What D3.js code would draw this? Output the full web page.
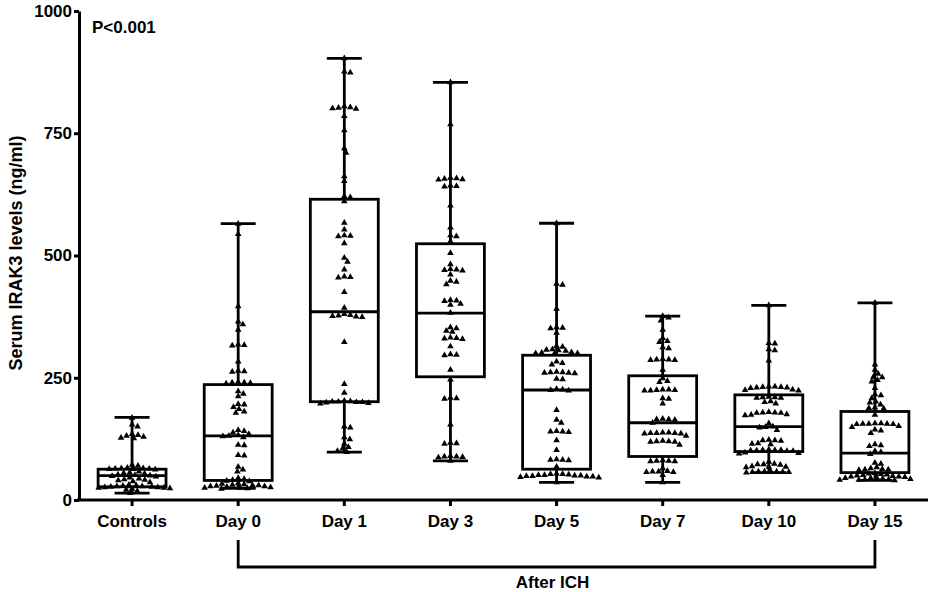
<!DOCTYPE html>
<html lang="en">
<head>
<meta charset="UTF-8">
<title>Serum IRAK3 levels</title>
<script src="https://d3js.org/d3.v7.min.js"></script>
<style>
    body { margin: 0; background: #fff; }
    text { font-family: "Liberation Sans", Arial, sans-serif; font-weight: bold; fill: #000; }
</style>
</head>
<body>
<svg id="chart"></svg>
<script>
// groups on the x axis
var groups = ["Controls", "Day 0", "Day 1", "Day 3", "Day 5", "Day 7", "Day 10", "Day 15"];
var yTicks = [0, 250, 500, 750, 1000];

// box plot summary (min, q1, median, q3, max)
var boxMin    = [14,  24,  98,  80,  36,  36,  56,  40];
var boxQ1     = [27,  40, 201, 252,  63,  89,  99,  56];
var boxMedian = [50, 131, 385, 382, 225, 158, 150,  96];
var boxQ3     = [63, 236, 615, 524, 296, 254, 215, 181];
var boxMax    = [169, 565, 903, 854, 566, 376, 398, 403];

// individual samples per group (ng/ml)
var controls = [168, 154, 150, 135, 133, 131, 129, 127, 126, 72, 70, 66, 65, 65, 64, 64, 63, 63, 62, 58, 56, 55, 54, 52, 51, 50, 49, 48, 46, 44, 42, 41, 40, 38, 36, 31, 30, 29, 28, 28, 27, 27, 26, 26, 25, 25, 24, 23, 21, 18, 14];
var day0 = [565, 544, 396, 365, 359, 348, 318, 317, 316, 283, 264, 263, 262, 241, 240, 240, 239, 238, 222, 217, 212, 196, 195, 190, 186, 181, 178, 143, 141, 138, 135, 133, 131, 130, 128, 113, 112, 92, 91, 68, 62, 58, 45, 43, 41, 39, 38, 34, 33, 32, 31, 30, 30, 29, 28, 28, 27, 26, 25, 25, 24, 23];
var day1 = [903, 876, 874, 805, 803, 802, 801, 800, 785, 756, 719, 710, 662, 652, 621, 619, 611, 567, 553, 541, 540, 539, 525, 495, 487, 471, 457, 456, 455, 425, 393, 380, 378, 377, 376, 375, 374, 323, 237, 219, 203, 202, 201, 201, 200, 200, 199, 198, 197, 150, 148, 128, 124, 115, 108, 105, 100, 98];
var day3 = [854, 768, 659, 658, 657, 656, 655, 643, 642, 641, 602, 557, 541, 539, 529, 505, 482, 472, 471, 470, 469, 461, 448, 446, 441, 409, 408, 407, 401, 399, 383, 353, 351, 346, 344, 332, 331, 330, 329, 314, 298, 297, 296, 266, 246, 209, 208, 207, 154, 117, 116, 115, 90, 89, 89, 88, 87, 80];
var day5 = [566, 442, 440, 391, 353, 352, 351, 342, 315, 313, 308, 307, 306, 305, 302, 301, 300, 300, 299, 283, 280, 277, 262, 261, 261, 260, 260, 259, 248, 247, 227, 226, 225, 224, 184, 164, 158, 141, 140, 140, 139, 122, 102, 83, 82, 82, 81, 68, 54, 53, 53, 52, 51, 51, 50, 50, 49, 49, 48, 48, 47, 46, 36];
var day7 = [376, 373, 367, 348, 331, 325, 323, 312, 310, 288, 287, 287, 286, 286, 266, 249, 243, 241, 226, 226, 225, 225, 224, 224, 208, 207, 197, 166, 165, 165, 164, 158, 138, 138, 137, 137, 137, 136, 136, 131, 121, 120, 120, 119, 119, 113, 81, 80, 80, 79, 79, 65, 59, 58, 58, 57, 57, 51, 36];
var day10 = [398, 321, 320, 308, 306, 285, 232, 232, 231, 231, 230, 230, 229, 226, 225, 224, 211, 210, 210, 209, 209, 202, 200, 197, 180, 179, 179, 178, 178, 175, 174, 173, 157, 150, 149, 148, 143, 123, 122, 122, 121, 116, 115, 114, 103, 102, 102, 102, 101, 101, 100, 100, 97, 96, 95, 78, 74, 73, 73, 72, 69, 68, 68, 67, 59, 58, 58, 58, 57, 57, 57, 56];
var day15 = [403, 277, 266, 258, 252, 251, 245, 242, 229, 216, 214, 208, 201, 199, 195, 189, 188, 187, 174, 157, 157, 156, 156, 156, 155, 155, 151, 149, 144, 142, 137, 114, 112, 110, 100, 98, 94, 76, 74, 67, 65, 63, 62, 62, 61, 55, 54, 53, 52, 51, 50, 49, 48, 48, 47, 46, 45, 45, 44, 43, 42, 42, 41, 41, 40];
var samples = [controls, day0, day1, day3, day5, day7, day10, day15];

(function() {
    var width = 935;
    var height = 592;
    var lw = 2.8;

    var svg = d3.select("#chart")
        .attr("width", width)
        .attr("height", height);

    var x = d3.scaleBand().domain(groups).range([79, 928]);
    var y = d3.scaleLinear().domain([0, 1000]).range([500, 11]);

    var boxW = x.bandwidth() * 0.64;
    var capW = x.bandwidth() * 0.33;

    // axes
    var yAxis = svg.append("g")
        .attr("transform", "translate(79,0)")
        .call(d3.axisLeft(y).tickValues(yTicks).tickFormat(d3.format("d"))
            .tickSize(5).tickSizeOuter(0).tickPadding(2));
    var xAxis = svg.append("g")
        .attr("transform", "translate(0,500)")
        .call(d3.axisBottom(x).tickSize(6).tickSizeOuter(0).tickPadding(9));
    [yAxis, xAxis].forEach(function(a) {
        a.selectAll("path, line").attr("stroke", "#000").attr("stroke-width", 3);
        a.selectAll("text").style("font-size", "17px");
    });
    xAxis.select(".domain").attr("d", "M77,0H928");

    // boxes and whiskers
    var g = svg.append("g").attr("stroke", "#000").attr("stroke-width", lw).attr("fill", "none");
    groups.forEach(function(name, i) {
        var cx = x(name) + x.bandwidth() / 2;
        g.append("rect")
            .attr("x", cx - boxW / 2).attr("width", boxW)
            .attr("y", y(boxQ3[i])).attr("height", y(boxQ1[i]) - y(boxQ3[i]));
        g.append("line").attr("x1", cx - boxW / 2).attr("x2", cx + boxW / 2)
            .attr("y1", y(boxMedian[i])).attr("y2", y(boxMedian[i]));
        g.append("line").attr("x1", cx).attr("x2", cx).attr("y1", y(boxMax[i])).attr("y2", y(boxQ3[i]));
        g.append("line").attr("x1", cx).attr("x2", cx).attr("y1", y(boxQ1[i])).attr("y2", y(boxMin[i]));
        g.append("line").attr("x1", cx - capW / 2).attr("x2", cx + capW / 2).attr("y1", y(boxMax[i])).attr("y2", y(boxMax[i]));
        g.append("line").attr("x1", cx - capW / 2).attr("x2", cx + capW / 2).attr("y1", y(boxMin[i])).attr("y2", y(boxMin[i]));
    });

    // simple beeswarm: put each point as close to the centre as it can go
    var rx = 6.1, ry = 4.6;
    function dodge(values) {
        var placed = [];
        values.slice().sort(d3.descending).forEach(function(v) {
            var py = y(v);
            var near = placed.filter(function(p) { return Math.abs(p.y - py) < ry; });
            var cands = [0];
            near.forEach(function(p) {
                var dy = (p.y - py) / ry;
                var w = rx * Math.sqrt(1 - dy * dy);
                cands.push(p.dx - w, p.dx + w);
            });
            cands.sort(function(a, b) { return Math.abs(a) - Math.abs(b) || b - a; });
            var dx = cands.find(function(c) {
                return near.every(function(p) {
                    var ddx = (p.dx - c) / rx, ddy = (p.y - py) / ry;
                    return ddx * ddx + ddy * ddy >= 0.999;
                });
            });
            placed.push({ dx: dx, y: py });
        });
        return placed;
    }

    var tri = d3.symbol().type(d3.symbolTriangle).size(19);
    groups.forEach(function(name, i) {
        var cx = x(name) + x.bandwidth() / 2;
        svg.append("g").selectAll("path")
            .data(dodge(samples[i]))
            .enter()
            .append("path")
            .attr("d", tri)
            .attr("fill", "#000")
            .attr("transform", function(d) { return "translate(" + (cx + d.dx) + "," + d.y + ")"; });
    });

    // labels
    svg.append("text")
        .attr("transform", "translate(22,253)rotate(-90)")
        .attr("text-anchor", "middle")
        .style("font-size", "18px")
        .text("Serum IRAK3 levels (ng/ml)");

    svg.append("text")
        .attr("x", 92).attr("y", 33)
        .style("font-size", "17px")
        .text("P<0.001");

    // bracket under Day 0 .. Day 15
    var x0 = x("Day 0") + x.bandwidth() / 2;
    var x1 = x("Day 15") + x.bandwidth() / 2;
    svg.append("path")
        .attr("d", "M" + x0 + ",540V567H" + x1 + "V540")
        .attr("fill", "none").attr("stroke", "#000").attr("stroke-width", lw);
    svg.append("text")
        .attr("x", (x0 + x1) / 2 - 4).attr("y", 588)
        .attr("text-anchor", "middle")
        .style("font-size", "17px")
        .text("After ICH");
})();
</script>
</body>
</html>
